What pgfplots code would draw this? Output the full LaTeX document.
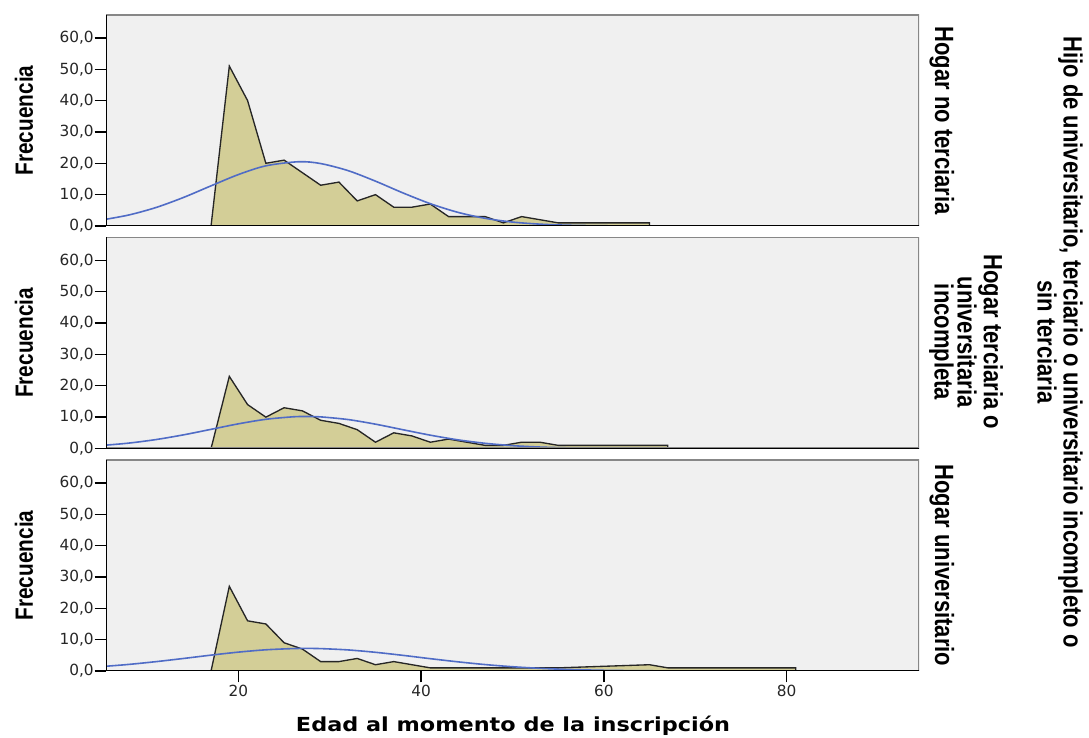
\documentclass[border=0pt]{standalone}
\usepackage{fontspec}
\setmainfont{Liberation Sans}
\newfontfamily\dv{DejaVu Sans}
\usepackage{graphicx}
\usepackage{pgfplots}
\pgfplotsset{compat=1.18}
\definecolor{bgc}{RGB}{240,240,240}
\definecolor{fillc}{RGB}{211,206,151}
\definecolor{curvec}{RGB}{80,108,198}
\definecolor{framec}{RGB}{135,135,135}
\pgfplotsset{panel/.style={
  scale only axis, width=609.75pt, height=158.25pt,
  xmin=5.5, xmax=94.5, ymin=0, ymax=67.3,
  axis background/.style={fill=bgc},
  axis line style={draw=none},
  tick align=outside, tick pos=left,
  major tick length=8.5pt,
  ytick={0,10,20,30,40,50,60},
  yticklabels={{0,0},{10,0},{20,0},{30,0},{40,0},{50,0},{60,0}},
  tick style={black, line width=1pt},
  yticklabel style={font=\dv\fontsize{11.5}{12}\selectfont, inner sep=0.5pt, text=black!85},
  xticklabel style={font=\dv\fontsize{11.5}{12}\selectfont, inner sep=2pt, text=black!85},
  clip=true,
}}
\newcommand{\panelframe}{%
  \draw[framec, line width=1.5pt] (rel axis cs:0,0) rectangle (rel axis cs:1,1);
  \draw[black, line width=1pt] (rel axis cs:0,1) -- (rel axis cs:0,0) -- (rel axis cs:1,0);}
\begin{document}
\begin{tikzpicture}
\useasboundingbox (0,0) rectangle (816.75pt,553.5pt);
% ---------------- panel 1 ----------------
\begin{axis}[panel, at={(79.5pt,384pt)}, anchor=south west, xtick=\empty]
\addplot[fill=fillc, draw=black!85, line width=1pt] coordinates {
(17,0) (19,51) (21,40) (23,20) (25,21) (27,17) (29,13) (31,14) (33,8) (35,10)
(37,6) (39,6) (41,7) (43,3) (45,3) (47,3) (49,1) (51,3) (53,2) (55,1) (57,1)
(59,1) (61,1) (63,1) (65,1) (65,0)} \closedcycle;
\addplot[curvec, line width=1.2pt, smooth] coordinates {
(5,1.90) (8,3.51) (11,5.92) (14,9.12) (17,12.81) (20,16.41) (23,19.19) (26.6,20.5)
(29,19.91) (32,17.66) (35,14.30) (38,10.56) (41,7.12) (44,4.37) (47,2.45) (50,1.25)
(53,0.59) (56,0.25) (60,0.07) (65,0.01) (70,0) (80,0) (95,0)};
\panelframe
\end{axis}
% ---------------- panel 2 ----------------
\begin{axis}[panel, at={(79.5pt,217.125pt)}, anchor=south west, xtick=\empty]
\addplot[fill=fillc, draw=black!85, line width=1pt] coordinates {
(17,0) (19,23) (21,14) (23,10) (25,13) (27,12) (29,9) (31,8) (33,6) (35,2)
(37,5) (39,4) (41,2) (43,3) (45,2) (47,1) (49,1) (51,2) (53,2) (55,1) (57,1)
(59,1) (61,1) (63,1) (65,1) (67,1) (67,0)} \closedcycle;
\addplot[curvec, line width=1.2pt, smooth] coordinates {
(5,0.95) (8,1.72) (11,2.86) (14,4.36) (17,6.11) (20,7.87) (23,9.31) (26,10.11) (27.4,10.2)
(29,10.08) (32,9.23) (35,7.76) (38,5.99) (41,4.25) (44,2.77) (47,1.66) (50,0.91)
(53,0.46) (56,0.21) (60,0.07) (65,0.01) (70,0) (80,0) (95,0)};
\panelframe
\end{axis}
% ---------------- panel 3 ----------------
\begin{axis}[panel, at={(79.5pt,50.25pt)}, anchor=south west,
  xtick={20,40,60,80}, xticklabels={20,40,60,80}]
\addplot[fill=fillc, draw=black!85, line width=1pt] coordinates {
(17,0) (19,27) (21,16) (23,15) (25,9) (27,7) (29,3) (31,3) (33,4) (35,2)
(37,3) (39,2) (41,1) (43,1) (45,1) (47,1) (49,1) (51,1) (53,1) (55,1) (57,1.2)
(59,1.4) (61,1.6) (63,1.8) (65,2) (67,1) (69,1) (71,1) (73,1) (75,1) (77,1) (79,1) (81,1) (81,0)} \closedcycle;
\addplot[curvec, line width=1.2pt, smooth] coordinates {
(5,1.40) (8,2.10) (11,2.99) (14,4.00) (17,5.06) (20,6.02) (23,6.76) (26,7.15) (27.4,7.2)
(29,7.14) (32,6.72) (35,5.96) (38,4.99) (41,3.93) (44,2.93) (47,2.05) (50,1.36)
(53,0.85) (56,0.50) (60,0.22) (65,0.07) (70,0.02) (80,0) (95,0)};
\panelframe
\end{axis}
% ---------------- labels ----------------
\foreach \yy in {463.1,296.25,129.4}{
  \node[rotate=90, yscale=1.2, font=\bfseries\fontsize{15.6}{18}\selectfont] at (18pt,\yy pt) {Frecuencia};
}
\node[rotate=-90, yscale=1.2, font=\bfseries\fontsize{16.5}{18}\selectfont] at (706.5pt,463.1pt) {Hogar no terciaria};
\node[rotate=-90, yscale=1.2, align=center, font=\bfseries\fontsize{16.5}{14.4}\selectfont] at (724.5pt,297pt) {Hogar terciaria o\\universitaria\\incompleta};
\node[rotate=-90, yscale=1.2, font=\bfseries\fontsize{16.5}{18}\selectfont] at (706.5pt,129.4pt) {Hogar universitario};
\node[rotate=-90, yscale=1.2, align=center, font=\bfseries\fontsize{16.5}{16.25}\selectfont] at (795pt,297pt) {Hijo de universitario, terciario o universitario incompleto o\\sin terciaria};
\node[inner sep=0pt] at (384.75pt,9pt) {\resizebox{325.5pt}{\height}{\dv\bfseries\fontsize{14.5}{16}\selectfont Edad al momento de la inscripción}};
\end{tikzpicture}
\end{document}
